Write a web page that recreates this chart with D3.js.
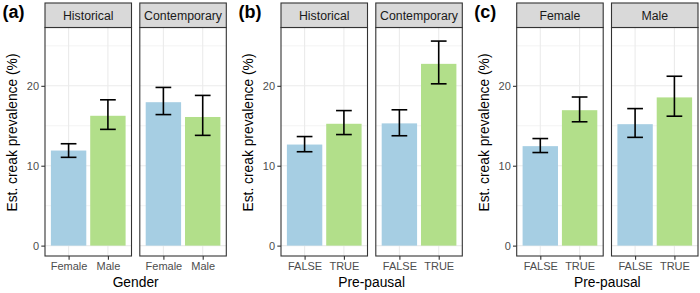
<!DOCTYPE html>
<html>
<head>
<meta charset="utf-8">
<script src="https://cdn.jsdelivr.net/npm/d3@7"></script>
<style>
  body { margin: 0; background: #fff; }
  svg text { font-family: "Liberation Sans", Arial, sans-serif; }
</style>
</head>
<body>
<div id="chart"></div>
<script>
// values (estimate, lower CI, upper CI)
const tags = ['(a)', '(b)', '(c)'];
const xTitles = ['Gender', 'Pre-pausal', 'Pre-pausal'];

const facetsA = ['Historical', 'Contemporary'];
const groupsA = ['Female', 'Male'];
const estA = [[11.9, 16.25], [17.95, 16.1]];
const lowA = [[11.05, 14.55], [16.4, 13.8]];
const highA = [[12.75, 18.25], [19.8, 18.8]];

const facetsB = ['Historical', 'Contemporary'];
const groupsB = ['FALSE', 'TRUE'];
const estB = [[12.65, 15.25], [15.3, 22.75]];
const lowB = [[11.75, 13.9], [13.75, 20.25]];
const highB = [[13.65, 16.9], [17.0, 25.6]];

const facetsC = ['Female', 'Male'];
const groupsC = ['FALSE', 'TRUE'];
const estC = [[12.45, 16.95], [15.2, 18.55]];
const lowC = [[11.65, 15.5], [13.55, 16.2]];
const highC = [[13.4, 18.6], [17.15, 21.2]];

const yTicks = [0, 10, 20];
const yMinor = [5, 15, 25];
const yTitle = 'Est. creak prevalence (%)';
const barColors = ['#a6cee3', '#b2df8a'];

const plots = [
  { facets: facetsA, groups: groupsA, est: estA, low: lowA, high: highA },
  { facets: facetsB, groups: groupsB, est: estB, low: lowB, high: highB },
  { facets: facetsC, groups: groupsC, est: estC, low: lowC, high: highC },
];

const W = 700, H = 293;
const panelLeft = [45, 281, 516.7];
const pw = 86.5, gap = 8.3;
const stripTop = 3, panelTop = 27.5, panelBottom = 256;

const svg = d3.select('#chart').append('svg')
  .attr('width', W).attr('height', H);

const y = d3.scaleLinear().domain([-1.3, 27.3]).range([panelBottom, panelTop]);

plots.forEach((p, pi) => {
  const g = svg.append('g');
  const left = panelLeft[pi];

  // tag
  g.append('text')
    .attr('x', left - 42.5).attr('y', 17.5)
    .attr('font-size', '18px').attr('font-weight', 'bold')
    .text(tags[pi]);

  // y title
  g.append('text')
    .attr('transform', `translate(${left - 28},${(stripTop + panelBottom) / 2 + 3}) rotate(-90)`)
    .attr('text-anchor', 'middle')
    .attr('font-size', '13.8px').attr('fill', '#000')
    .text(yTitle);

  p.facets.forEach((f, fi) => {
    const x0 = left + fi * (pw + gap);
    const x = d3.scalePoint().domain(p.groups).range([x0, x0 + pw]).padding(0.6);
    const step = x.step();

    const fg = g.append('g');
    fg.append('rect')
      .attr('x', x0).attr('y', panelTop)
      .attr('width', pw).attr('height', panelBottom - panelTop)
      .attr('fill', '#fff');

    // grid
    fg.selectAll('.minor').data(yMinor).join('line')
      .attr('x1', x0).attr('x2', x0 + pw)
      .attr('y1', d => y(d)).attr('y2', d => y(d))
      .attr('stroke', '#ebebeb').attr('stroke-width', 0.6);
    fg.selectAll('.major').data(yTicks).join('line')
      .attr('x1', x0).attr('x2', x0 + pw)
      .attr('y1', d => y(d)).attr('y2', d => y(d))
      .attr('stroke', '#ebebeb').attr('stroke-width', 1.1);
    fg.selectAll('.vgrid').data(p.groups).join('line')
      .attr('x1', d => x(d)).attr('x2', d => x(d))
      .attr('y1', panelTop).attr('y2', panelBottom)
      .attr('stroke', '#ebebeb').attr('stroke-width', 1.1);

    // bars
    fg.selectAll('.bar').data(p.groups).join('rect')
      .attr('x', d => x(d) - 0.45 * step)
      .attr('width', 0.9 * step)
      .attr('y', (d, i) => y(p.est[fi][i]))
      .attr('height', (d, i) => y(0) - y(p.est[fi][i]))
      .attr('fill', (d, i) => barColors[i]);

    // error bars
    const eb = fg.selectAll('.err').data(p.groups).join('g')
      .attr('stroke', '#000').attr('stroke-width', 1.6).attr('fill', 'none');
    eb.append('line')
      .attr('x1', d => x(d)).attr('x2', d => x(d))
      .attr('y1', (d, i) => y(p.low[fi][i])).attr('y2', (d, i) => y(p.high[fi][i]));
    eb.append('line')
      .attr('x1', d => x(d) - 0.2 * step).attr('x2', d => x(d) + 0.2 * step)
      .attr('y1', (d, i) => y(p.low[fi][i])).attr('y2', (d, i) => y(p.low[fi][i]));
    eb.append('line')
      .attr('x1', d => x(d) - 0.2 * step).attr('x2', d => x(d) + 0.2 * step)
      .attr('y1', (d, i) => y(p.high[fi][i])).attr('y2', (d, i) => y(p.high[fi][i]));

    // border
    fg.append('rect')
      .attr('x', x0).attr('y', panelTop)
      .attr('width', pw).attr('height', panelBottom - panelTop)
      .attr('fill', 'none').attr('stroke', '#333').attr('stroke-width', 1.1);

    // strip
    fg.append('rect')
      .attr('x', x0).attr('y', stripTop)
      .attr('width', pw).attr('height', panelTop - stripTop)
      .attr('fill', '#d9d9d9').attr('stroke', '#333').attr('stroke-width', 1.1);
    fg.append('text')
      .attr('x', x0 + pw / 2).attr('y', (stripTop + panelTop) / 2)
      .attr('dy', '0.36em').attr('text-anchor', 'middle')
      .attr('font-size', '12.3px').attr('fill', '#1a1a1a')
      .text(f);

    // x axis
    const xa = fg.append('g')
      .attr('transform', `translate(0,${panelBottom})`)
      .call(d3.axisBottom(x).tickSize(3.7).tickPadding(2.5));
    xa.select('.domain').remove();
    xa.selectAll('line').attr('stroke', '#333').attr('stroke-width', 1.1);
    xa.selectAll('text').attr('font-size', '11px').attr('fill', '#4d4d4d')
      .attr('font-family', '"Liberation Sans", Arial, sans-serif');

    // y axis on first facet
    if (fi === 0) {
      const ya = fg.append('g')
        .attr('transform', `translate(${x0},0)`)
        .call(d3.axisLeft(y).tickValues(yTicks).tickSize(3.7).tickPadding(2.2));
      ya.select('.domain').remove();
      ya.selectAll('line').attr('stroke', '#333').attr('stroke-width', 1.1);
      ya.selectAll('text').attr('font-size', '11px').attr('fill', '#4d4d4d')
        .attr('font-family', '"Liberation Sans", Arial, sans-serif');
    }
  });

  // x title
  g.append('text')
    .attr('x', left + pw + gap / 2).attr('y', 287)
    .attr('text-anchor', 'middle')
    .attr('font-size', '13.8px').attr('fill', '#000')
    .text(xTitles[pi]);
});
</script>
</body>
</html>
